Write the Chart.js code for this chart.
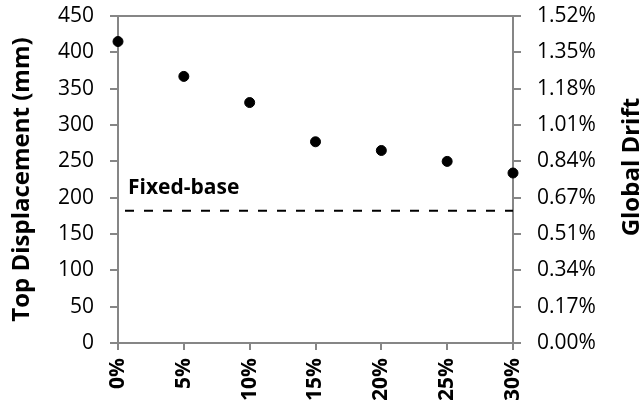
<!DOCTYPE html>
<html>
<head>
<meta charset="utf-8">
<script src="https://cdn.jsdelivr.net/npm/chart.js@4"></script>
<style>
  html, body { margin: 0; padding: 0; background: #fff; }
</style>
</head>
<body>
<canvas id="dispChart" width="644" height="400"></canvas>
<script>
// values
const xPercent = [0, 5, 10, 15, 20, 25, 30];
const topDisp = [415, 367, 331, 277, 265, 250, 234];
const fixedBase = 182;
const driftLabels = ["0.00%", "0.17%", "0.34%", "0.51%", "0.67%", "0.84%", "1.01%", "1.18%", "1.35%", "1.52%"];

const axisGray = "#868686";
const fontFamily = "'Open Sans', 'DejaVu Sans', sans-serif";

const points = xPercent.map((x, i) => ({ x: x, y: topDisp[i] }));
const fixedLine = [
  { x: xPercent[0], y: fixedBase },
  { x: xPercent[xPercent.length - 1], y: fixedBase },
];

// "Fixed-base" note and right axis title (reads bottom to top)
const extraText = {
  id: "extraText",
  afterDatasetsDraw(chart) {
    const { ctx, chartArea } = chart;
    const x = chart.scales.x;
    const y = chart.scales.y;
    ctx.save();
    ctx.fillStyle = "#000";
    ctx.font = "bold 21px " + fontFamily;
    ctx.textAlign = "left";
    ctx.textBaseline = "alphabetic";
    ctx.fillText("Fixed-base", x.getPixelForValue(0) + 10, y.getPixelForValue(fixedBase) - 17);

    ctx.translate(632, chartArea.top + 151);
    ctx.rotate(-Math.PI / 2);
    ctx.textAlign = "center";
    ctx.textBaseline = "middle";
    ctx.font = "bold 24px " + fontFamily;
    ctx.fillText("Global Drift", 0, 0);
    ctx.restore();
  },
};

const ctx = document.getElementById("dispChart");

// tiny lineHeight keeps the tick labels from pushing the chart area down
const tickFont = { family: fontFamily, size: 21, lineHeight: 0.01 };

const dispChart = new Chart(ctx, {
  type: "scatter",
  data: {
    datasets: [
      {
        label: "Top displacement",
        data: points,
        backgroundColor: "#000",
        borderColor: "#000",
        pointRadius: 5,
        pointHoverRadius: 5,
        clip: false,
        yAxisID: "y",
      },
      {
        type: "line",
        label: "Fixed-base",
        data: fixedLine,
        borderColor: "#000",
        borderWidth: 2,
        borderDash: [9, 10],
        borderDashOffset: 12,
        pointRadius: 0,
        fill: false,
        yAxisID: "y",
      },
    ],
  },
  options: {
    responsive: false,
    animation: false,
    layout: { padding: 0 },
    plugins: {
      legend: { display: false },
      tooltip: { enabled: false },
    },
    scales: {
      x: {
        type: "linear",
        min: 0,
        max: 30,
        afterFit(scale) { scale.height = 57; },
        border: { color: axisGray, width: 2 },
        grid: { drawOnChartArea: false, tickColor: axisGray, tickLength: 7, lineWidth: 2 },
        ticks: {
          stepSize: 5,
          minRotation: 90,
          maxRotation: 90,
          padding: 8,
          color: "#000",
          font: { family: fontFamily, size: 21, weight: "bold" },
          callback: (v) => v + "%",
        },
      },
      y: {
        position: "left",
        min: 0,
        max: 450,
        afterFit(scale) { scale.width = 118; },
        border: { color: axisGray, width: 2 },
        grid: {
          color: (c) => (c.tick && c.tick.value === 450 ? axisGray : "rgba(0,0,0,0)"),
          tickColor: axisGray,
          tickLength: 8,
          lineWidth: 2,
        },
        ticks: {
          stepSize: 50,
          padding: 16,
          color: "#000",
          font: tickFont,
        },
        title: {
          display: true,
          text: "Top Displacement (mm)",
          color: "#000",
          font: { family: fontFamily, size: 24, weight: "bold" },
          padding: { top: 8, bottom: 0 },
        },
      },
      y2: {
        position: "right",
        min: 0,
        max: 450,
        afterFit(scale) { scale.width = 131; },
        border: { color: axisGray, width: 2 },
        grid: { drawOnChartArea: false, tickColor: axisGray, tickLength: 8, lineWidth: 2 },
        ticks: {
          stepSize: 50,
          padding: 16,
          color: "#000",
          font: tickFont,
          callback: (v, i) => driftLabels[i],
        },
      },
    },
  },
  plugins: [extraText],
});
</script>
</body>
</html>
